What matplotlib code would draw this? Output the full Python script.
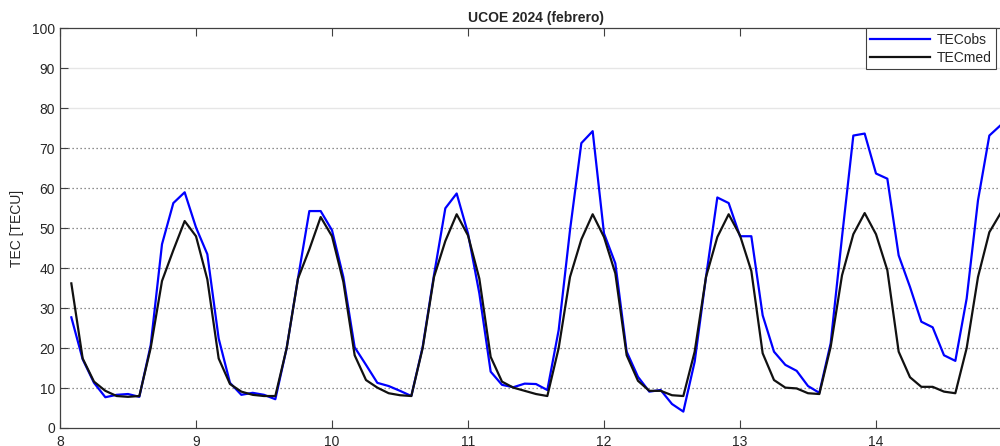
import numpy as np
import matplotlib.pyplot as plt

plt.rcParams['font.family'] = ['Liberation Sans', 'DejaVu Sans']

# TEC sampled every 2 hours, starting 8 feb 02:00
hours = np.arange(2, 168, 2)
days = 8 + hours / 24.0

tec_obs = [27.7, 17.2, 11.3, 7.7, 8.3, 8.5, 7.8, 20.7, 46.0, 56.3, 59.0, 50.2,
           43.5, 22.4, 11.3, 8.3, 8.8, 8.3, 7.2, 20.0, 37.5, 54.3, 54.3, 49.5,
           37.8, 20.2, 15.8, 11.3, 10.5, 9.3, 8.0, 20.3, 38.3, 55.0, 58.7, 48.7,
           33.7, 14.1, 10.8, 10.2, 11.1, 11.0, 9.5, 24.5, 49.5, 71.3, 74.3, 48.7,
           41.2, 19.1, 12.8, 9.1, 9.5, 6.0, 4.1, 16.6, 37.8, 57.7, 56.3, 48.0,
           48.0, 28.2, 19.1, 15.8, 14.3, 10.5, 8.8, 21.2, 47.8, 73.2, 73.7, 63.7,
           62.4, 43.2, 35.3, 26.6, 25.2, 18.2, 16.8, 32.4, 57.0, 73.2, 75.8]

tec_med = [36.2, 17.4, 11.6, 9.3, 8.0, 7.8, 8.0, 20.0, 36.8, 44.5, 51.8, 48.0,
           37.2, 17.4, 11.0, 9.1, 8.3, 8.0, 8.0, 20.0, 37.4, 44.7, 52.8, 48.0,
           36.6, 18.2, 12.0, 10.1, 8.7, 8.2, 8.0, 20.0, 37.8, 46.8, 53.5, 48.2,
           37.4, 17.8, 11.6, 10.1, 9.3, 8.5, 8.0, 20.0, 37.8, 47.2, 53.5, 47.8,
           38.7, 18.2, 11.8, 9.3, 9.3, 8.2, 8.0, 19.1, 37.8, 47.8, 53.5, 48.2,
           39.3, 18.7, 12.0, 10.1, 9.9, 8.7, 8.5, 20.3, 38.2, 48.5, 53.8, 48.5,
           39.5, 19.1, 12.7, 10.3, 10.3, 9.1, 8.7, 20.0, 37.8, 49.0, 53.8]

x_ticks = [8, 9, 10, 11, 12, 13, 14]
y_ticks = list(range(0, 101, 10))

txt = '#262626'

fig = plt.figure(figsize=(10, 4.46), dpi=100)
# axes run past the right edge of the figure
ax = fig.add_axes([0.06, 0.0404, 0.952, 0.8957])

for y in y_ticks[1:8]:
    ax.axhline(y, color='#6a6a6a', lw=0.9, ls=(0, (1, 2.2)), zorder=1)
for y in y_ticks[8:10]:
    ax.axhline(y, color='#e6e6e6', lw=1.0, zorder=1)

ax.plot(days, tec_obs, color='#0000ff', lw=1.6, label='TECobs', zorder=3)
ax.plot(days, tec_med, color='#111111', lw=1.6, label='TECmed', zorder=3)

ax.set_xlim(8, 15)
ax.set_ylim(0, 100)
ax.set_xticks(x_ticks)
ax.set_yticks(y_ticks)
ax.tick_params(direction='in', length=6, width=0.8, colors='#404040',
               labelsize=10, labelcolor=txt, top=True, right=True)
ax.tick_params(axis='x', pad=5)
for s in ax.spines.values():
    s.set_color('#404040')
    s.set_linewidth(0.9)

ax.set_ylabel('TEC [TECU]', fontsize=10, color=txt, labelpad=6)
ax.set_title('UCOE 2024 (febrero)', fontsize=10, fontweight='bold', color=txt, pad=5)

leg = ax.legend(loc='upper left', bbox_to_anchor=(0.8466, 1.0), borderaxespad=0,
                fontsize=10, handlelength=4.3, handletextpad=0.5, labelspacing=0.3,
                borderpad=0.3, fancybox=False, framealpha=1)
leg.get_frame().set_edgecolor('#404040')
leg.get_frame().set_linewidth(0.8)
for t in leg.get_texts():
    t.set_color(txt)

plt.savefig('out.png', dpi=100)
